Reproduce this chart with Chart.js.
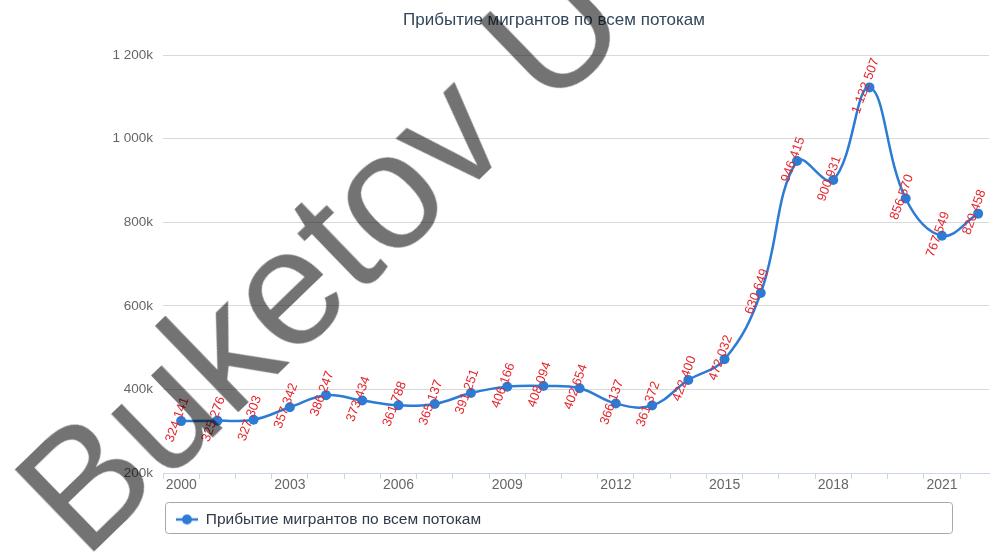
<!DOCTYPE html>
<html>
<head>
<meta charset="utf-8">
<script src="https://cdn.jsdelivr.net/npm/chart.js@4.4.1/dist/chart.umd.min.js"></script>
<style>
html,body{margin:0;padding:0;background:#fff;}
#wrap{position:relative;width:994px;height:554px;overflow:hidden;}
#wm{position:absolute;left:319.5px;top:253.8px;transform:translate(-50%,-50%) rotate(-44deg);
  font-family:"Liberation Sans",Arial,sans-serif;font-size:166px;line-height:1;
  color:rgba(0,0,0,0.55);white-space:nowrap;pointer-events:none;}
</style>
</head>
<body>
<div id="wrap">
<canvas id="c" width="994" height="554"></canvas>
<div id="wm">Buketov U</div>
</div>
<script>
// ---- data ----
const years = [2000,2001,2002,2003,2004,2005,2006,2007,2008,2009,2010,2011,2012,2013,2014,2015,2016,2017,2018,2019,2020,2021,2022];
const arrivals = [324141,325276,327303,357342,386247,373434,361788,365137,391251,406166,408094,402654,366137,361372,422400,472032,630649,946415,900931,1122507,856570,767549,820458];
const labelYears = [2000,2003,2006,2009,2012,2015,2018,2021];
const yMin = 200000, yMax = 1200000, yStep = 200000;
const seriesName = 'Прибытие мигрантов по всем потокам';
const chartTitle = 'Прибытие мигрантов по всем потокам';

const FONT = "'Liberation Sans', Arial, sans-serif";
const BLUE = '#2c7bd5';
const RED = '#e3262e';

function fmt(n){ return String(n).replace(/\B(?=(\d{3})+(?!\d))/g, ' '); }

const points = years.map((y,i)=>({x:y, y:arrivals[i]}));

// legend icon: line with dot
const icon = document.createElement('canvas');
icon.width = 22; icon.height = 12;
(function(){
  const g = icon.getContext('2d');
  g.strokeStyle = BLUE; g.lineWidth = 2.5;
  g.beginPath(); g.moveTo(0,6); g.lineTo(22,6); g.stroke();
  g.fillStyle = BLUE; g.beginPath(); g.arc(11,6,5,0,Math.PI*2); g.fill();
})();

const dataLabels = {
  id:'dataLabels',
  afterDatasetsDraw(chart){
    const ctx = chart.ctx;
    const meta = chart.getDatasetMeta(0);
    ctx.save();
    ctx.fillStyle = RED;
    ctx.font = "13px " + FONT;
    ctx.textAlign = 'center';
    ctx.textBaseline = 'middle';
    meta.data.forEach((pt,i)=>{
      ctx.save();
      ctx.translate(pt.x, pt.y);
      ctx.rotate(-70*Math.PI/180);
      ctx.fillText(fmt(arrivals[i]), 0, -4);
      ctx.restore();
    });
    ctx.restore();
  }
};

const frame = {
  id:'frame',
  afterLayout(chart){
    if (chart.titleBlock){ chart.titleBlock.left += 57; chart.titleBlock.right += 57; }
    if (chart.legend){ chart.legend.left = 169; }
  },
  afterDraw(chart){
    const ctx = chart.ctx;
    ctx.save();
    ctx.strokeStyle = '#a8a8a8';
    ctx.lineWidth = 1;
    ctx.beginPath();
    ctx.roundRect(165.5, 502.5, 787, 31, 3);
    ctx.stroke();
    ctx.restore();
  }
};

new Chart(document.getElementById('c'), {
  type:'line',
  data:{
    datasets:[{
      label: seriesName,
      data: points,
      borderColor: BLUE,
      backgroundColor: BLUE,
      borderWidth: 2.5,
      pointRadius: 5,
      pointHoverRadius: 5,
      pointBorderWidth: 0,
      pointBackgroundColor: BLUE,
      tension: 0.4,
      fill: false
    }]
  },
  options:{
    responsive:false,
    animation:false,
    layout:{padding:{left:0,right:0,top:0,bottom:16.75}},
    plugins:{
      tooltip:{enabled:false},
      title:{
        display:true, text: chartTitle,
        color:'#33475b',
        font:{family:FONT, size:17, weight:'normal'},
        padding:{top:10, bottom:24.6}
      },
      legend:{
        position:'bottom', align:'start',
        labels:{
          usePointStyle:true, pointStyleWidth:22, padding:7,
          color:'#2f3b48',
          font:{family:FONT, size:15.5},
          generateLabels(chart){
            const items = Chart.defaults.plugins.legend.labels.generateLabels(chart);
            items.forEach(it=>{ it.pointStyle = icon; });
            return items;
          }
        }
      }
    },
    scales:{
      x:{
        type:'linear',
        min: years[0]-0.5,
        max: years[years.length-1]+0.3,
        afterBuildTicks(scale){
          const t = [];
          for (let v = years[0]-0.5; v < years[years.length-1]; v += 1) t.push({value:v});
          scale.ticks = t;
        },
        afterFit(scale){ scale.height = 31.75; },
        grid:{drawOnChartArea:false, drawTicks:true, tickLength:6, color:'#ccd6eb'},
        border:{display:true, color:'#ccd6eb', width:1},
        ticks:{
          autoSkip:false, maxRotation:0, minRotation:0,
          padding:-2,
          labelOffset:18.2,
          color:'#666666',
          font:{family:FONT, size:14},
          callback(v){
            const yr = Math.round(v+0.5);
            return labelYears.includes(yr) ? String(yr) : '';
          }
        }
      },
      y:{
        min:yMin, max:yMax,
        afterFit(scale){ scale.width = 163; },
        grid:{color:'#d9d9d9', drawTicks:false},
        border:{display:false},
        ticks:{
          stepSize:yStep, padding:10,
          color:'#666666',
          font:{family:FONT, size:13.5},
          callback(v){ return fmt(v/1000)+'k'; }
        }
      }
    }
  },
  plugins:[dataLabels, frame]
});
</script>
</body>
</html>
